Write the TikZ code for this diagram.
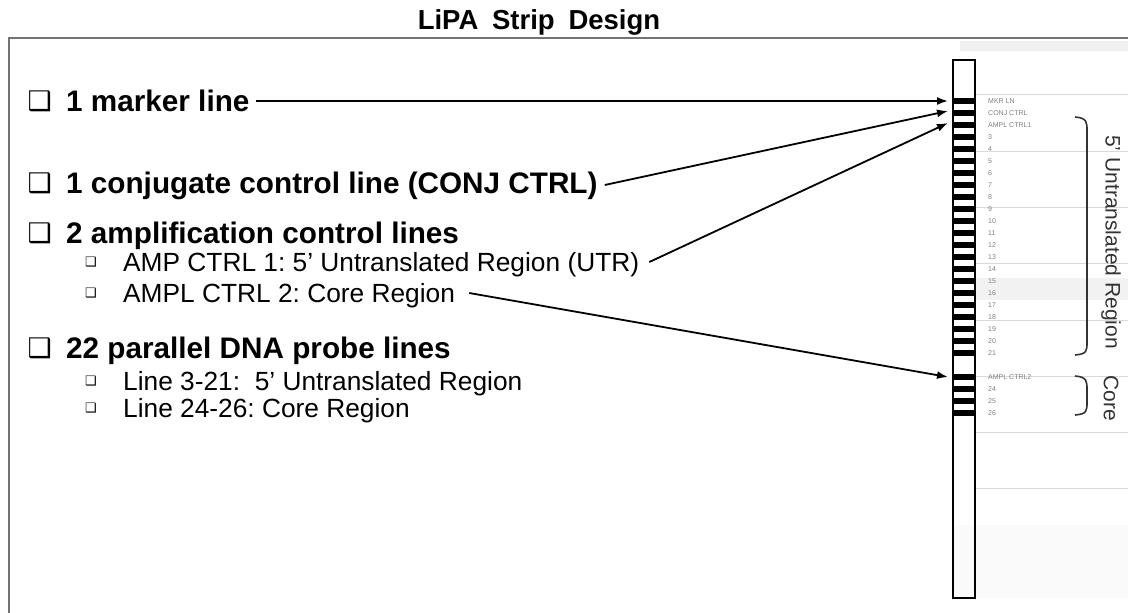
\documentclass[tikz,border=0pt]{standalone}
\usepackage{fontspec}
\setmainfont{Liberation Sans}
\newfontfamily\boxfont{DejaVu Sans}
\usetikzlibrary{arrows.meta,positioning}
\frenchspacing
\tikzset{
  head/.style={font=\bfseries\fontsize{29.7}{30}\selectfont, anchor=west, inner sep=0pt, text height=21pt, text depth=0pt},
  sub/.style={font=\fontsize{26.3}{27}\selectfont, anchor=west, inner sep=0pt, text height=18.8pt, text depth=0pt},
  bigbul/.style={font=\boxfont\fontsize{27}{27}\selectfont, inner sep=0pt},
  smallbul/.style={font=\boxfont\fontsize{13}{13}\selectfont, inner sep=0pt},
  pointer/.style={-{Latex[length=11pt,width=8pt]}, line width=1.8pt},
  tag/.style={font=\fontsize{7}{7}\selectfont, text=black!50, anchor=west, inner sep=0pt},
  brace/.style={line width=1.6pt, black!80},
  side/.style={rotate=-90, font=\fontsize{21}{21}\selectfont, text=black!80, inner sep=0pt},
}
\begin{document}
\begin{tikzpicture}[x=1pt, y=-1pt]
    \useasboundingbox (0,0) rectangle (1128,613);
    % screenshot residue behind the strip
    \fill[black!6] (960,41) rectangle (1128,51);
    \fill[black!5] (975,278) rectangle (1128,300);
    \fill[black!2] (953,525) rectangle (1128,598);
    \foreach \y in {94,151,207,263,320,376,432,488}
        \draw[black!15, line width=0.8pt] (975,\y) -- (1128,\y);
    \draw[black!55, line width=1.6pt] (9,613) -- (9,38) -- (1128,38);
    \node[font=\bfseries\fontsize{27.5}{27.5}\selectfont] (title) at (539,22) {LiPA\hspace{0.5em}Strip\hspace{0.5em}Design};

    % strip with its lines
    \draw[line width=1.8pt] (953,60) rectangle (975,598);
    \foreach \k in {0,...,21,23,24,25,26} {
        \fill (953,101+12*\k-3) rectangle (975,101+12*\k+3);
        \coordinate (bar\k) at (948,101+12*\k);
    }
    \node[tag] (mkr) at (988,101) {MKR LN};
    \node[tag] (conj) at (988,113) {CONJ CTRL};
    \node[tag] (ampl1) at (988,125) {AMPL CTRL1};
    \foreach \k in {3,...,21}
        \node[tag] (n\k) at (988,101+12*\k) {\k};
    \node[tag] (ampl2) at (988,377) {AMPL CTRL2};
    \foreach \k in {24,25,26}
        \node[tag] (n\k) at (988,101+12*\k) {\k};

    % regions
    \draw[brace] (1075,117) .. controls (1087,118) and (1087,122) .. (1087,131) -- (1087,342) .. controls (1087,351) and (1087,354) .. (1075,355);
    \draw[brace] (1075,376) .. controls (1087,377) and (1087,381) .. (1087,390) -- (1087,402) .. controls (1087,411) and (1087,414) .. (1075,415);
    \node[side] (utrside) at (1111,242) {5' Untranslated Region};
    \node[side] (coreside) at (1111,398) {Core};

    % list
    \node[head] (marker) at (66,101) {1 marker line};
    \node[head] (control) at (66,183) {1 conjugate control line (CONJ CTRL)};
    \node[head] (amp) at (66,233) {2 amplification control lines};
    \node[sub] (utr) at (123,262) {AMP CTRL 1: 5' Untranslated Region (UTR)};
    \node[sub] (core) at (123,293) {AMPL CTRL 2: Core Region};
    \node[head] (probe) at (66,348) {22 parallel DNA probe lines};
    \node[sub] (probeutr) at (123,381) {Line 3-21:\ \ 5' Untranslated Region};
    \node[sub] (probecore) at (123,408) {Line 24-26: Core Region};
    \foreach \n in {marker,control,amp,probe}
        \node[bigbul, left=14pt of \n] (b\n) {❑};
    \foreach \n in {utr,core,probeutr,probecore}
        \node[smallbul, left=26pt of \n] (b\n) {❑};

    \draw[pointer] ([xshift=6pt]marker.east) -- (bar0);
    \draw[pointer] ([xshift=7pt,yshift=-2pt]control.east) -- ([yshift=2pt]bar1);
    \draw[pointer] ([xshift=10pt]utr.east) -- ([yshift=2pt]bar2);
    \draw[pointer] ([xshift=14pt]core.east) -- (bar23);
\end{tikzpicture}
\end{document}
